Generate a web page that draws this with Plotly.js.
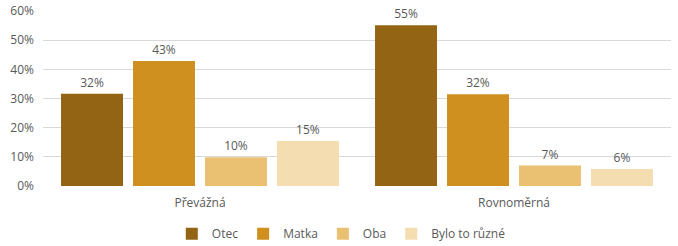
<!DOCTYPE html>
<html><head><meta charset="utf-8">
<script src="https://cdn.plot.ly/plotly-3.0.1.min.js"></script>
<style>html,body{margin:0;padding:0;background:#fff}</style>
</head><body><div id="chart" style="width:678px;height:246px"></div>
<script>
const categories = ["Převážná", "Rovnoměrná"];
const seriesNames = ["Otec", "Matka", "Oba", "Bylo to různé"];
const otec = [31.6, 55.1];
const matka = [42.9, 31.5];
const oba = [9.9, 7.0];
const ruzne = [15.4, 5.8];
const colors = ["#936413", "#cf901f", "#eac173", "#f4ddb1"];
const seriesValues = [otec, matka, oba, ruzne];

const traces = seriesValues.map((vals, i) => ({
  type: "bar", x: categories, y: vals, name: seriesNames[i],
  marker: {color: colors[i]},
  texttemplate: "%{y:.0f}%", textposition: "outside",
  textfont: {color: "#595959", size: 12, family: "Open Sans, sans-serif"},
  cliponaxis: false, hoverinfo: "none"
}));

Plotly.newPlot("chart", traces, {
  width: 678, height: 246,
  margin: {l: 43, r: 7, t: 11, b: 60},
  barmode: "group", bargap: 0.083, bargroupgap: 0.139,
  paper_bgcolor: "#fff", plot_bgcolor: "#fff",
  font: {family: "Open Sans, sans-serif", color: "#595959", size: 12},
  xaxis: {showgrid: false, showline: false, ticks: "", tickfont: {size: 12}, ticklabelstandoff: 8, automargin: false},
  yaxis: {range: [0, 60], dtick: 10, ticksuffix: "%", gridcolor: "#d9d9d9",
          zeroline: false, showline: false, tickfont: {size: 12}, ticklabelstandoff: 8, automargin: false},
  showlegend: true,
  legend: {orientation: "h", x: 0.475, xanchor: "center", yref: "container", y: 0.05, yanchor: "middle",
           font: {size: 12}, itemwidth: 30, tracegroupgap: 0},
}, {staticPlot: true});
</script></body></html>
